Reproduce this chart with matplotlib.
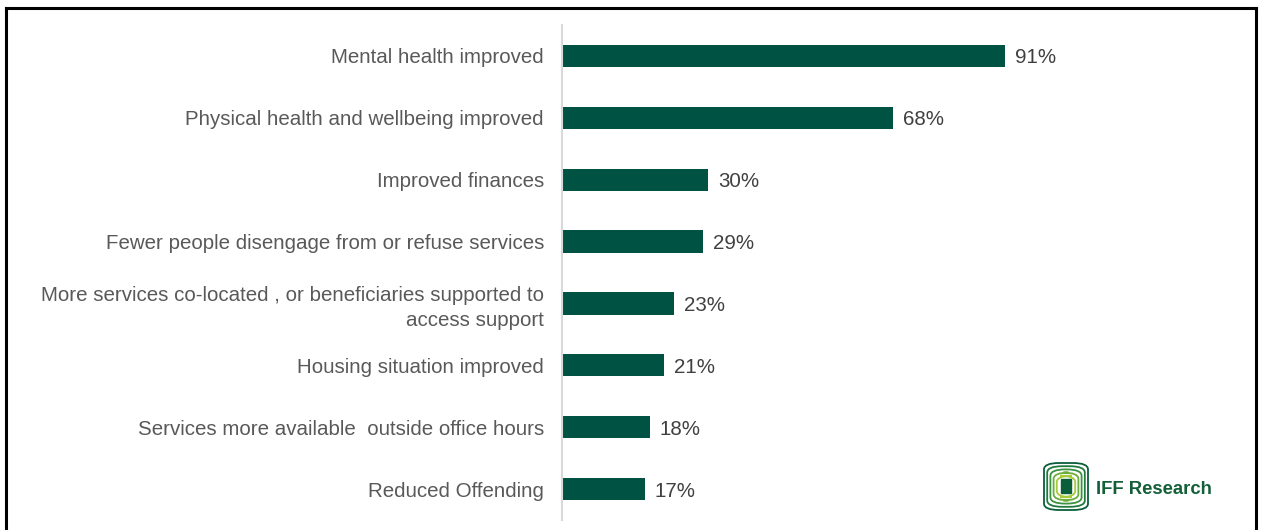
import matplotlib.pyplot as plt
from matplotlib.patches import Rectangle, FancyBboxPatch

plt.rcParams['font.family'] = ['Liberation Sans', 'DejaVu Sans']

# benefits reported
categories = ['Mental health improved',
              'Physical health and wellbeing improved',
              'Improved finances',
              'Fewer people disengage from or refuse services',
              'More services co-located , or beneficiaries supported to\naccess support',
              'Housing situation improved',
              'Services more available  outside office hours',
              'Reduced Offending']
values = [91, 68, 30, 29, 23, 21, 18, 17]

bar_col = '#005343'
lab_col = '#595959'
val_col = '#404040'

fw, fh = 1262, 530
fig = plt.figure(figsize=(12.62, 5.30), dpi=100)
ax = fig.add_axes([562/fw, 10/fh, (1049-562)/fw, (520-25)/fh])

ypos = list(range(len(categories)))
ax.barh(ypos, values, height=0.36, color=bar_col)
for y, v in zip(ypos, values):
    ax.text(v + 2.0, y, f'{v}%', va='center_baseline', ha='left', fontsize=14.8, color=val_col)

ax.set_xlim(0, 100)
ax.set_ylim(7.5, -0.5)
ax.set_yticks(ypos)
ax.set_yticklabels(categories, fontsize=14.8, color=lab_col, linespacing=1.35)
ax.tick_params(axis='y', length=0, pad=13)
ax.set_xticks([])
for s in ['top', 'right', 'bottom']:
    ax.spines[s].set_visible(False)
ax.spines['left'].set_color('#d9d9d9')
ax.spines['left'].set_linewidth(1.5)

# outer frame (open at the bottom)
fig.add_artist(plt.Line2D([6/fw, 6/fw], [0, 1 - 8/fh], color='black', lw=2.2))
fig.add_artist(plt.Line2D([6/fw, 1256/fw], [1 - 8/fh, 1 - 8/fh], color='black', lw=2.2))
fig.add_artist(plt.Line2D([1256/fw, 1256/fw], [0, 1 - 8/fh], color='black', lw=2.2))

# logo: nested rounded outlines fading from dark to light green
greens = ['#0b5e3a', '#1f7a3c', '#3c9340', '#6aae3e', '#a5cc3a']
x0, y0, w, h = 1044, 463, 44, 47
for i, g in enumerate(greens):
    d = i * 3.2
    fig.add_artist(FancyBboxPatch(((x0 + d)/fw, 1 - (y0 + h - d)/fh),
                                  (w - 2*d)/fw, (h - 2*d)/fh,
                                  boxstyle='round,pad=0,rounding_size=0.012',
                                  transform=fig.transFigure, fill=False,
                                  edgecolor=g, lw=1.3))
fig.add_artist(Rectangle(((x0 + 17)/fw, 1 - (y0 + 30)/fh), 10/fw, 14/fh,
                         transform=fig.transFigure, color='#0b5e3a'))
fig.text(1096/fw, 1 - 489/fh, 'IFF Research', fontsize=13.3, color='#125f38',
         fontweight='bold', va='center', ha='left')

fig.savefig('out.png', dpi=100, facecolor='white')
